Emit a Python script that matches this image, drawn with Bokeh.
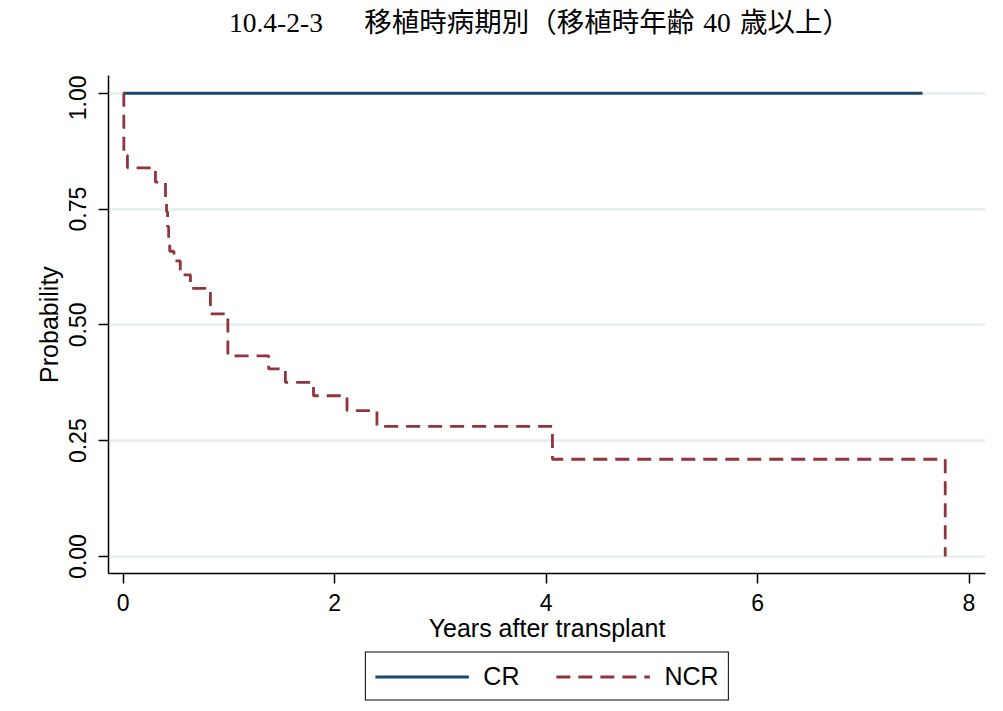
from bokeh.plotting import figure
from bokeh.models import Range1d, FixedTicker, PrintfTickFormatter, Legend, LegendItem, Label
from bokeh.layouts import column
from bokeh.embed import file_html
from bokeh.resources import INLINE

# ---- data ----
title_text = "10.4-2-3\u3000\u2002移植時病期別（移植時年齢\u200440\u2004歳以上）"
x_ticks = [0, 2, 4, 6, 8]
y_ticks = [0, 0.25, 0.5, 0.75, 1.0]

cr_time = [0.0, 7.56]
cr_surv = [1.0, 1.0]

ncr_time = [0.0, 0.006, 0.04, 0.305, 0.40, 0.41, 0.42, 0.43, 0.44, 0.48, 0.54,
            0.636, 0.825, 0.99, 1.376, 1.534, 1.80, 2.117, 2.40, 4.06, 7.775]
ncr_surv = [1.0, 0.866, 0.839, 0.808, 0.776, 0.744, 0.712, 0.684, 0.659, 0.638, 0.608,
            0.579, 0.524, 0.433, 0.405, 0.376, 0.347, 0.315, 0.281, 0.21, 0.0]

series_names = ["CR", "NCR"]
series_colors = ["#1a476f", "#90353b"]

SANS = "'Liberation Sans'"
TITLE_FONT = "'Liberation Serif', 'Noto Sans CJK JP'"


def blank_strip(h):
    f = figure(frame_width=877, frame_height=h, output_backend="svg", toolbar_location=None,
               x_range=Range1d(0, 1), y_range=Range1d(0, 1),
               min_border_left=108, min_border_right=15, min_border_top=0, min_border_bottom=0,
               x_axis_location=None, y_axis_location=None)
    f.outline_line_color = None
    f.grid.visible = False
    f.background_fill_color = "white"
    f.border_fill_color = "white"
    return f


# ---- title strip ----
p_title = blank_strip(75)
p_title.add_layout(Label(x=431, y=53, x_units="screen", y_units="screen", text=title_text,
                         text_font=TITLE_FONT, text_font_size="27.5px", text_color="black",
                         text_align="center", text_baseline="middle"))

# ---- main plot ----
p = figure(frame_width=877, frame_height=498, output_backend="svg", toolbar_location=None,
           x_range=Range1d(-0.139, 8.156), y_range=Range1d(-0.0367, 1.0384),
           min_border_left=108, min_border_right=15, min_border_top=0, min_border_bottom=75,
           x_axis_label="Years after transplant", y_axis_label="Probability")

p.outline_line_color = None
p.background_fill_color = "white"
p.border_fill_color = "white"

p.xgrid.visible = False
p.ygrid.ticker = FixedTicker(ticks=y_ticks)
p.ygrid.grid_line_color = "#e6eef1"
p.ygrid.grid_line_width = 2.5

for ax in (p.xaxis[0], p.yaxis[0]):
    ax.axis_line_color = "black"
    ax.axis_line_width = 1.5
    ax.major_tick_line_color = "black"
    ax.major_tick_line_width = 1.5
    ax.major_tick_out = 10
    ax.major_tick_in = 0
    ax.minor_tick_line_color = None
    ax.major_label_text_font = SANS
    ax.major_label_text_font_size = "23px"
    ax.major_label_text_color = "black"
    ax.axis_label_text_font = SANS
    ax.axis_label_text_font_size = "25px"
    ax.axis_label_text_font_style = "normal"
    ax.axis_label_text_color = "black"

p.xaxis[0].ticker = FixedTicker(ticks=x_ticks)
p.xaxis[0].major_label_standoff = 10
p.xaxis[0].axis_label_standoff = 0

p.yaxis[0].ticker = FixedTicker(ticks=y_ticks)
p.yaxis[0].formatter = PrintfTickFormatter(format="%.2f")
p.yaxis[0].major_label_orientation = "vertical"
p.yaxis[0].major_label_standoff = 12
p.yaxis[0].axis_label_standoff = 4

p.step(cr_time, cr_surv, mode="after", line_color=series_colors[0], line_width=3)
p.step(ncr_time, ncr_surv, mode="after", line_color=series_colors[1], line_width=2.8,
       line_dash="14 8")

# ---- legend strip (hidden copies of the series supply the legend glyphs) ----
p_leg = blank_strip(56)
k_cr = p_leg.line(cr_time, cr_surv, line_color=series_colors[0], line_width=3, visible=False)
k_ncr = p_leg.line(ncr_time, ncr_surv, line_color=series_colors[1], line_width=2.8,
                   line_dash="14 8", visible=False)
legend = Legend(items=[LegendItem(label=series_names[0], renderers=[k_cr]),
                       LegendItem(label=series_names[1], renderers=[k_ncr])],
                orientation="horizontal", location="center",
                glyph_width=94, glyph_height=26, label_height=26, label_standoff=15,
                spacing=36, padding=9, margin=0,
                inactive_fill_alpha=0.0,
                border_line_color="black", border_line_width=1.5, border_line_alpha=1,
                background_fill_color="white", background_fill_alpha=1,
                label_text_font=SANS, label_text_font_size="25px", label_text_color="black")
p_leg.add_layout(legend, "center")

layout = column(p_title, p, p_leg, spacing=0)
open("out.html", "w").write(file_html(layout, INLINE))
